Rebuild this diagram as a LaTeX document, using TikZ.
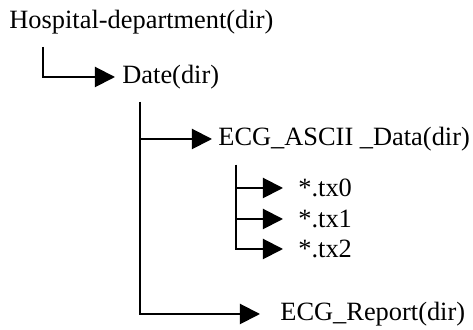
\documentclass[tikz,border=0pt]{standalone}
\usepackage{fontspec}
\setmainfont{Liberation Serif}
\usetikzlibrary{arrows.meta}

\begin{document}
\begin{tikzpicture}[x=0.5pt,y=-0.5pt,
  lbl/.style={anchor=west,inner sep=0pt,font=\fontsize{13.2}{16}\selectfont},
  arr/.style={-{Triangle[length=10pt,width=10pt]},line width=1pt}]
\useasboundingbox (0,0) rectangle (473,330);

\node [lbl,anchor=base west] (hosp) at (9,29) {Hospital-department(dir)};
\node [lbl] (date) at (122,77) {Date(dir)};
\node [lbl] (ascii) at (218,139) {ECG\_ASCII \_Data(dir)};
\node [lbl] (tx0) at (298,188) {*.tx0};
\node [lbl] (tx1) at (298,219) {*.tx1};
\node [lbl] (tx2) at (298,249) {*.tx2};
\node [lbl] (report) at (280,314) {ECG\_Report(dir)};

\coordinate (top1) at (43,47);
\coordinate (top2) at (140,102);
\coordinate (top3) at (236,165);

\draw [arr] (top1) |- ([xshift=-3.5pt]date.west);
\draw [arr] (top2) |- ([xshift=-3pt]ascii.west);
\draw [arr] (top2) |- ([xshift=-10pt]report.west);
\foreach \f in {tx0,tx1,tx2}
  \draw [arr] (top3) |- ([xshift=-7.5pt]\f.west);
\end{tikzpicture}
\end{document}
